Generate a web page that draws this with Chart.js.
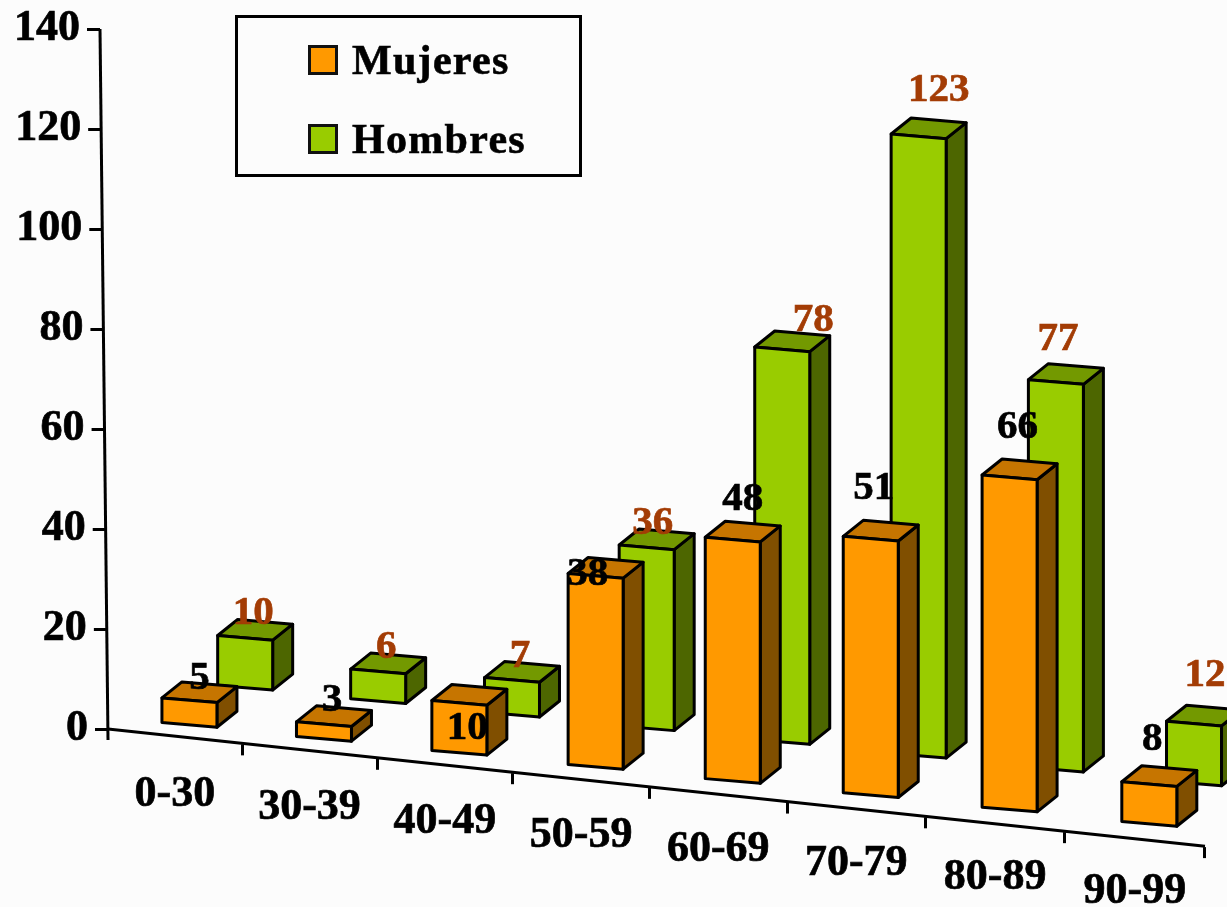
<!DOCTYPE html>
<html>
<head>
<meta charset="utf-8">
<title>Mujeres y Hombres por edad</title>
<script src="https://cdn.jsdelivr.net/npm/chart.js@4/dist/chart.umd.js"></script>
<style>
  html, body { margin: 0; padding: 0; background: #fcfcfc; overflow: hidden; }
  #wrap { position: relative; width: 1227px; height: 907px; }
  canvas { display: block; }
  #legend {
    position: absolute; left: 235px; top: 15px; width: 341px; height: 156px;
    border: 3px solid #000; box-sizing: content-box;
    font: bold 42px "Liberation Serif", serif; letter-spacing: 1.3px; color: #000;
    -webkit-text-stroke: 0.6px #000;
  }
  #legend .row { position: absolute; left: 70px; display: flex; align-items: center; height: 40px; }
  #legend .box { width: 24px; height: 24px; border: 3px solid #111; margin-right: 14px; }
</style>
</head>
<body>
<div id="wrap">
  <canvas id="chart" width="1227" height="907"></canvas>
  <div id="legend"></div>
</div>
<script>
const categories = ["0-30", "30-39", "40-49", "50-59", "60-69", "70-79", "80-89", "90-99"];
const mujeres = [5, 3, 10, 38, 48, 51, 66, 8];
const hombres = [10, 6, 7, 36, 78, 123, 77, 12];

// look of the two rows of bars
const rows = [
  { front: "#ff9900", top: "#c67500", side: "#804f00", text: "#000", dx: 14.5, dxK: 0, dy: -12, dyK: 0.0037 },
  { front: "#99cc00", top: "#739900", side: "#4d6600", text: "#a33c05", dx: 71, dxK: 0.0115, dy: -55, dyK: 0.0058 },
];
// data labels that do not sit at the default place above their bar
const labelDefault = [8, -24];
const labelNudges = [
  { 0: [10, -22], 2: [8, 26], 3: [-8, -1], 4: [10, -40], 5: [3, -50], 6: [8, -50], 7: [3, -45] },
  { 3: [6, -24], 4: [31, -29], 5: [20, -46], 6: [2, -43], 7: [11, -48] },
];

const BASE_SLOPE = 0.1068;
const LABEL_SLOPE = 0.1015;
const AXIS_LEAN = 8 / 700;
const BEND = 2.3e-5;
const FACE_SKEW = 0.085;
const DEPTH = [20, -16];
const HEIGHT_K = 1.008;
const AXIS_WIDTH = 3;

class SlantX extends Chart.CategoryScale {
  static id = "slantX";
  getPixelForValue(value) {
    const p = super.getPixelForValue(value);
    return p - BEND * (p - this.left) * (this.right - p);
  }
  _computeGridLineItems(chartArea) {
    const items = super._computeGridLineItems(chartArea);
    items.forEach((it) => {
      const d = BASE_SLOPE * (it.tx1 - this.left);
      it.ty1 += d;
      it.ty2 += d;
    });
    return items;
  }
  _computeLabelItems(chartArea) {
    const items = super._computeLabelItems(chartArea);
    items.forEach((it) => {
      const t = it.options.translation;
      it.options.translation = [t[0], t[1] + LABEL_SLOPE * (t[0] - this.left)];
    });
    return items;
  }
  drawBorder() {
    const ctx = this.ctx;
    ctx.save();
    ctx.strokeStyle = "#000";
    ctx.lineWidth = AXIS_WIDTH;
    ctx.beginPath();
    ctx.moveTo(this.left, this.top);
    ctx.lineTo(this.right, this.top + BASE_SLOPE * (this.right - this.left));
    ctx.stroke();
    ctx.restore();
  }
}

class SlantY extends Chart.LinearScale {
  static id = "slantY";
  _computeGridLineItems(chartArea) {
    const items = super._computeGridLineItems(chartArea);
    items.forEach((it) => {
      const d = -(this.bottom - it.ty1) * AXIS_LEAN;
      it.tx1 += d;
      it.tx2 += d;
    });
    return items;
  }
  _computeLabelItems(chartArea) {
    const items = super._computeLabelItems(chartArea);
    items.forEach((it) => {
      const t = it.options.translation;
      it.options.translation = [t[0] - (this.bottom - t[1]) * AXIS_LEAN, t[1]];
    });
    return items;
  }
  drawBorder() {
    const ctx = this.ctx;
    ctx.save();
    ctx.strokeStyle = "#000";
    ctx.lineWidth = AXIS_WIDTH;
    ctx.beginPath();
    ctx.moveTo(this.right - (this.bottom - this.top) * AXIS_LEAN, this.top);
    ctx.lineTo(this.right, this.bottom + 11);
    ctx.stroke();
    ctx.restore();
  }
}

function placeBar(bar, row, area) {
  const run = bar.x - area.left;
  const x = bar.x + row.dx - row.dxK * run;
  const base = bar.base + BASE_SLOPE * (x - area.left) + row.dy - row.dyK * run;
  return { x, base, height: (bar.base - bar.y) * HEIGHT_K, width: bar.width };
}

function face(ctx, points, fill) {
  ctx.beginPath();
  points.forEach((p, i) => (i ? ctx.lineTo(p[0], p[1]) : ctx.moveTo(p[0], p[1])));
  ctx.closePath();
  ctx.fillStyle = fill;
  ctx.fill();
  ctx.stroke();
}

class Bar3DController extends Chart.BarController {
  static id = "bar3d";
  static defaults = Chart.BarController.defaults;
  static overrides = Chart.BarController.overrides;
  draw() {
    const ctx = this.chart.ctx;
    const row = rows[this.index];
    ctx.save();
    ctx.strokeStyle = "#000";
    ctx.lineWidth = AXIS_WIDTH;
    ctx.lineJoin = "round";
    this._cachedMeta.data.forEach((bar) => {
      const b = placeBar(bar, row, this.chart.chartArea);
      const half = b.width / 2;
      const l = b.x - half;
      const r = b.x + half;
      const s = half * FACE_SKEW;
      const tl = [l, b.base - b.height - s];
      const tr = [r, b.base - b.height + s];
      const br = [r, b.base + s];
      const bl = [l, b.base - s];
      const back = (p) => [p[0] + DEPTH[0], p[1] + DEPTH[1]];
      face(ctx, [tr, br, back(br), back(tr)], row.side);
      face(ctx, [tl, tr, back(tr), back(tl)], row.top);
      face(ctx, [tl, tr, br, bl], row.front);
    });
    ctx.restore();
  }
}

Chart.register(SlantX, SlantY, Bar3DController);

const valueLabels = {
  id: "valueLabels",
  afterDatasetsDraw(chart) {
    const ctx = chart.ctx;
    ctx.save();
    ctx.font = 'bold 41px "Liberation Serif", serif';
    ctx.textAlign = "center";
    ctx.textBaseline = "middle";
    ctx.lineWidth = 0.7;
    // Hombres first, Mujeres on top
    [1, 0].forEach((d) => {
      const row = rows[d];
      ctx.fillStyle = row.text;
      ctx.strokeStyle = row.text;
      chart.getDatasetMeta(d).data.forEach((bar, i) => {
        const b = placeBar(bar, row, chart.chartArea);
        const off = labelNudges[d][i] || labelDefault;
        const text = String(chart.data.datasets[d].data[i]);
        ctx.fillText(text, b.x + off[0], b.base - b.height + off[1]);
        ctx.strokeText(text, b.x + off[0], b.base - b.height + off[1]);
      });
    });
    ctx.restore();
  },
};

const tickFont = { family: '"Liberation Serif", serif', size: 44, weight: "bold" };

const chart = new Chart(document.getElementById("chart"), {
  type: "bar3d",
  plugins: [valueLabels],
  data: {
    labels: categories,
    datasets: [
      { label: "Mujeres", data: mujeres, backgroundColor: rows[0].front, grouped: false, barThickness: 55, clip: false },
      { label: "Hombres", data: hombres, backgroundColor: rows[1].front, grouped: false, barThickness: 55, clip: false },
    ],
  },
  options: {
    responsive: false,
    animation: false,
    devicePixelRatio: 1,
    layout: { padding: { left: 0, right: 22, top: 29, bottom: 0 } },
    plugins: { legend: { display: false }, tooltip: { enabled: false } },
    scales: {
      x: {
        type: "slantX",
        offset: true,
        grid: { offset: true, drawOnChartArea: false, tickLength: 12, tickWidth: AXIS_WIDTH, tickColor: "#000" },
        ticks: { color: "#000", font: tickFont, maxRotation: 0, autoSkip: false, padding: 20, textStrokeColor: "#000", textStrokeWidth: 0.7 },
        afterFit: (s) => { s.height = 178; },
      },
      y: {
        type: "slantY",
        min: 0,
        max: 140,
        grid: { drawOnChartArea: false, tickLength: 13, tickWidth: AXIS_WIDTH, tickColor: "#000" },
        ticks: { color: "#000", font: tickFont, stepSize: 20, padding: 7, textStrokeColor: "#000", textStrokeWidth: 0.7 },
        afterFit: (s) => { s.width = 108; s.paddingTop = 0; s.paddingBottom = 0; },
      },
    },
  },
});

document.getElementById("legend").innerHTML = chart.data.datasets
  .map((ds, i) => `
  <div class="row" style="top:${[22, 101][i]}px">
    <span class="box" style="background:${ds.backgroundColor}"></span><span>${ds.label}</span>
  </div>`)
  .join("");
</script>
</body>
</html>
